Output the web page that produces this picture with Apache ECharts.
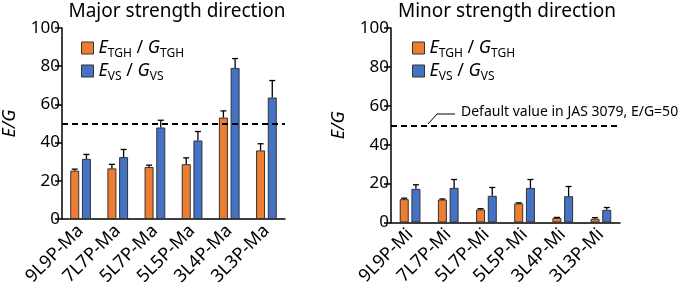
<!DOCTYPE html>
<html>
<head>
<meta charset="utf-8">
<script src="https://cdn.jsdelivr.net/npm/echarts@6/dist/echarts.min.js"></script>
<style>
  html, body { margin: 0; padding: 0; background: #fff; }
  #chart { width: 685px; height: 292px; }
</style>
</head>
<body>
<div id="chart"></div>
<script>
const majorCats = ['9L9P-Ma', '7L7P-Ma', '5L7P-Ma', '5L5P-Ma', '3L4P-Ma', '3L3P-Ma'];
const minorCats = ['9L9P-Mi', '7L7P-Mi', '5L7P-Mi', '5L5P-Mi', '3L4P-Mi', '3L3P-Mi'];
const yTicks = [0, 20, 40, 60, 80, 100];

// E/G ratio, means and upper error
const majorTGH = [25.3, 26.5, 27.2, 28.7, 53.1, 35.9];
const majorTGHErr = [0.8, 2.1, 1.0, 3.3, 3.5, 3.5];
const majorVS = [31.5, 32.4, 47.9, 41.1, 79.1, 63.6];
const majorVSErr = [2.3, 4.0, 3.8, 4.7, 4.9, 8.9];

const minorTGH = [12.0, 11.8, 6.7, 9.8, 2.4, 1.9];
const minorTGHErr = [0.5, 0.3, 0.4, 0.3, 0.2, 0.6];
const minorVS = [17.3, 17.8, 13.7, 17.8, 13.5, 6.5];
const minorVSErr = [2.1, 4.3, 4.3, 4.3, 5.0, 1.2];

const defaultEG = 50;

const FONT = 'Noto Sans';
const ORANGE = '#ED7D31';
const BLUE = '#4472C4';
const EDGE = '#333333';

const errRender = (offset) => (params, api) => {
  const base = api.coord([api.value(0), api.value(1)]);
  const top = api.coord([api.value(0), api.value(1) + api.value(2)]);
  const x = base[0] + offset;
  return {
    type: 'group',
    children: [
      { type: 'line', shape: { x1: x, y1: base[1], x2: x, y2: top[1] }, style: { stroke: '#000', lineWidth: 1.3 } },
      { type: 'line', shape: { x1: x - 3, y1: top[1], x2: x + 3, y2: top[1] }, style: { stroke: '#000', lineWidth: 1.3 } }
    ]
  };
};

const barSeries = (name, data, color, idx, withLine) => {
  const s = {
    name: name,
    type: 'bar',
    xAxisIndex: idx,
    yAxisIndex: idx,
    barWidth: 9,
    barGap: '30%',
    data: data,
    itemStyle: { color: color, borderColor: EDGE, borderWidth: 1 }
  };
  if (withLine) {
    s.markLine = {
      silent: true,
      symbol: ['none', 'none'],
      label: { show: false },
      lineStyle: { color: '#000', type: [6, 4], width: 2 },
      data: [{ yAxis: defaultEG }]
    };
  }
  return s;
};

const errSeries = (name, mean, err, idx, offset) => ({
  name: name,
  type: 'custom',
  xAxisIndex: idx,
  yAxisIndex: idx,
  renderItem: errRender(offset),
  data: mean.map((v, i) => [i, v, err[i]]),
  z: 3
});

const legendRich = {
  i: { fontFamily: FONT, fontStyle: 'italic', fontSize: 18, lineHeight: 24, color: '#000' },
  t: { fontFamily: FONT, fontSize: 18, lineHeight: 24, color: '#000' },
  s: { fontFamily: FONT, fontSize: 12, lineHeight: 13, verticalAlign: 'bottom', color: '#000' }
};
const legendFmt = (name) => '{i|E}{s|' + name + '}{t| / }{i|G}{s|' + name + '}';

const makeLegend = (left) => ({
  left: left,
  top: 34,
  orient: 'vertical',
  icon: 'rect',
  itemWidth: 12,
  itemHeight: 12,
  itemGap: 2,
  data: ['TGH', 'VS'],
  itemStyle: { borderColor: EDGE, borderWidth: 1 },
  formatter: legendFmt,
  textStyle: { rich: legendRich }
});

const makeX = (cats, idx) => ({
  type: 'category',
  gridIndex: idx,
  data: cats,
  axisTick: { show: false },
  axisLine: { lineStyle: { color: '#000', width: 1.5 } },
  axisLabel: { rotate: 45, fontSize: 18, fontFamily: FONT, color: '#000', margin: 9, interval: 0 }
});

const makeY = (idx) => ({
  type: 'value',
  gridIndex: idx,
  min: yTicks[0],
  max: yTicks[yTicks.length - 1],
  interval: yTicks[1] - yTicks[0],
  name: 'E/G',
  nameLocation: 'middle',
  nameGap: 43,
  nameRotate: 90,
  nameTextStyle: { fontFamily: FONT, fontStyle: 'italic', fontSize: 18, color: '#000' },
  splitLine: { show: false },
  axisLine: { show: true, lineStyle: { color: '#000', width: 1.5 } },
  axisTick: { show: true, length: 7, lineStyle: { color: '#000', width: 1.5 } },
  axisLabel: { fontSize: 17, fontFamily: FONT, color: '#000', margin: 2 }
});

const chart = echarts.init(document.getElementById('chart'));
chart.setOption({
  animation: false,
  backgroundColor: '#fff',
  title: [
    { text: 'Major strength direction', left: 172, top: -3, textAlign: 'center',
      textStyle: { fontFamily: FONT, fontSize: 19, fontWeight: 'normal', color: '#000' } },
    { text: 'Minor strength direction', left: 502, top: -3, textAlign: 'center',
      textStyle: { fontFamily: FONT, fontSize: 19, fontWeight: 'normal', color: '#000' } }
  ],
  legend: [makeLegend(76), makeLegend(407)],
  grid: [
    { left: 60.5, right: 400, top: 28, bottom: 73 },
    { left: 391, right: 65, top: 28, bottom: 69.5 }
  ],
  xAxis: [makeX(majorCats, 0), makeX(minorCats, 1)],
  yAxis: [makeY(0), makeY(1)],
  series: [
    barSeries('TGH', majorTGH, ORANGE, 0, true),
    barSeries('VS', majorVS, BLUE, 0, false),
    errSeries('errTGH', majorTGH, majorTGHErr, 0, -5.85),
    errSeries('errVS', majorVS, majorVSErr, 0, 5.85),
    barSeries('TGH', minorTGH, ORANGE, 1, true),
    barSeries('VS', minorVS, BLUE, 1, false),
    errSeries('errTGH', minorTGH, minorTGHErr, 1, -5.85),
    errSeries('errVS', minorVS, minorVSErr, 1, 5.85)
  ],
  graphic: [
    { type: 'polyline', shape: { points: [[428, 124], [437, 114], [455, 114]] },
      style: { stroke: '#000', lineWidth: 1, fill: null } },
    { type: 'text', left: 461, top: 105,
      style: { text: 'Default value in JAS 3079, E/G=50', fontFamily: FONT, fontSize: 14, fill: '#000' } }
  ]
});
</script>
</body>
</html>
